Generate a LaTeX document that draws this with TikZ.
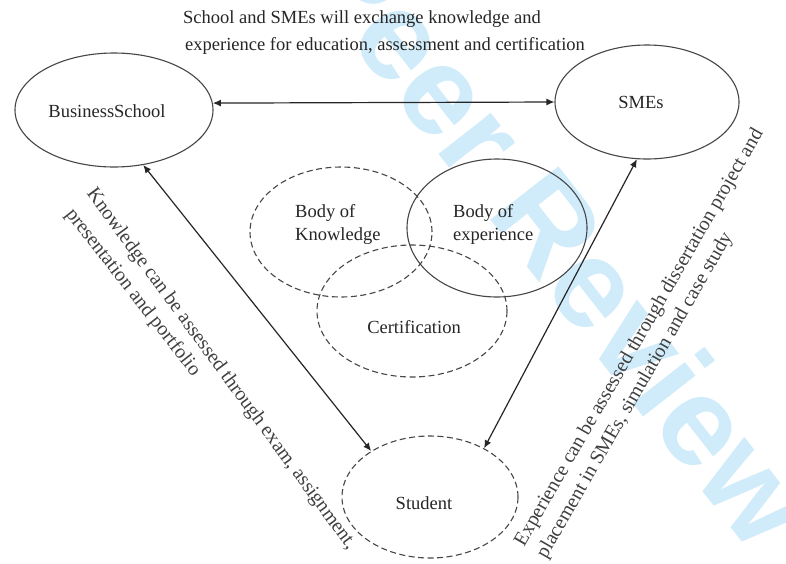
\documentclass[tikz,border=0pt]{standalone}
\usepackage{fontspec}
\setmainfont{Liberation Serif}
\newfontfamily\wmfont{Liberation Sans}
\usetikzlibrary{shapes.geometric,arrows.meta}
\definecolor{wmblue}{RGB}{208,236,250}
\definecolor{inkgray}{RGB}{70,70,70}
\begin{document}
\begin{tikzpicture}[x=1pt,y=-1pt,
  every node/.style={inner sep=0pt,text=black!85},
  txt/.style={font=\fontsize{18.5}{23}\selectfont},
  note/.style={font=\fontsize{20}{24}\selectfont,text=black!75},
  solidell/.style={draw=inkgray,line width=1.1pt,ellipse,inner sep=0pt},
  dashell/.style={solidell,dash pattern=on 6pt off 3.5pt},
  conn/.style={draw=black!85,line width=1.2pt,{Latex[length=8pt,width=7pt]}-{Latex[length=8pt,width=7pt]}},
  wm/.style={font=\wmfont\bfseries\fontsize{126}{126}\selectfont,text=wmblue,rotate=-52}]
\useasboundingbox (0,0) rectangle (786,563);
\clip (0,0) rectangle (786,563);
\fill[white] (0,0) rectangle (786,563);
% watermark
\node[wm] (wm) at (560,236) {Peer Review};
% ellipses
\node[solidell,minimum width=198pt,minimum height=114pt] (bs) at (114,110) {};
\node[solidell,minimum width=184pt,minimum height=114pt] (sme) at (647,102) {};
\node[dashell,minimum width=182pt,minimum height=130pt] (bok) at (341,232) {};
\node[solidell,minimum width=180pt,minimum height=138pt] (boe) at (497,228) {};
\node[dashell,minimum width=190pt,minimum height=132pt] (cert) at (412,311) {};
\node[dashell,minimum width=176pt,minimum height=122pt] (st) at (430,497) {};
% labels
\node[txt] (bst) at (107,111) {BusinessSchool};
\node[txt] (smet) at (641,102) {SMEs};
\node[txt,align=left,anchor=west] (bokt) at (295,224) {Body of\\Knowledge};
\node[txt,align=left,anchor=west] (boet) at (453,224) {Body of\\experience};
\node[txt] (certt) at (414,327) {Certification};
\node[txt] (stt) at (424,503) {Student};
\node[txt,anchor=west] (top1) at (183,19) {School and SMEs will exchange knowledge and};
\node[txt,anchor=west] (top2) at (185,46) {experience for education, assessment and certification};
% rotated notes
\node[note,rotate=-53.7,anchor=west] (kn1) at (90,191) {Knowledge can be assessed through exam, assignment,};
\node[note,rotate=-52,anchor=west] (kn2) at (69,211) {presentation and portfolio};
\node[note,rotate=60,anchor=west] (ex1) at (520,545) {Experience can be assessed through dissertation project and};
\node[note,rotate=60,anchor=west] (ex2) at (542,557) {placement in SMEs, simulation and case study};
% connectors
\draw[conn] (bs.4) -- (sme.west);
\draw[conn] (bs.-62) -- (st.142);
\draw[conn] (sme.-100) -- (st.42);
\end{tikzpicture}
\end{document}
